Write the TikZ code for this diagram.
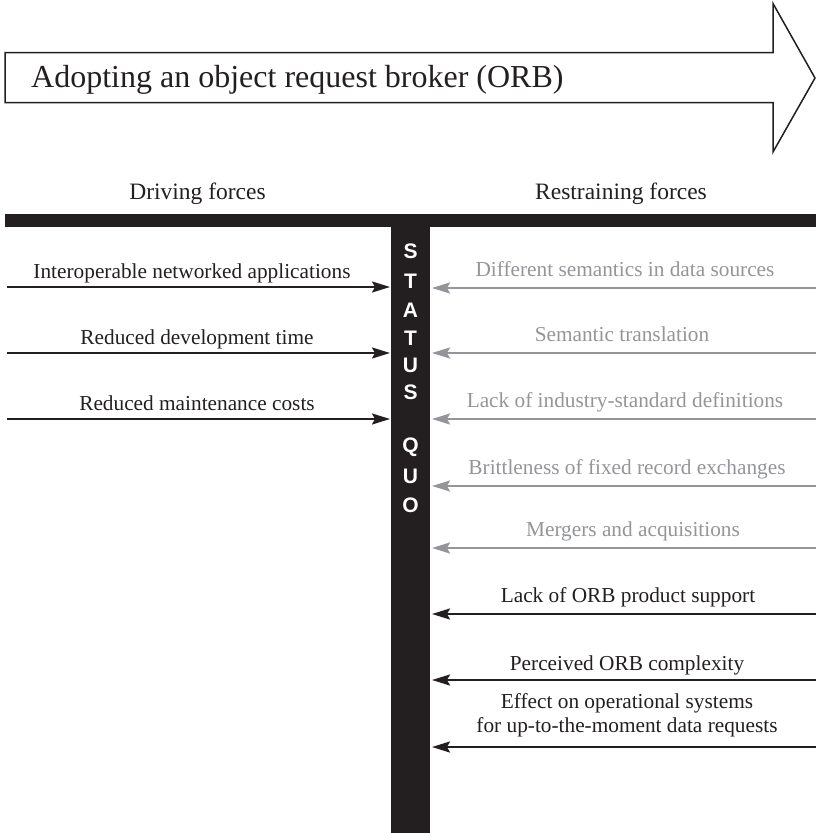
\documentclass[tikz,border=0pt]{standalone}
\usepackage{fontspec}
\setmainfont{Liberation Serif}
\newfontfamily\sqfont{Liberation Sans}
\usetikzlibrary{arrows.meta}
\definecolor{ink}{HTML}{231F20}
\definecolor{faint}{HTML}{939598}

\begin{document}
\begin{tikzpicture}[x=1pt,y=-1pt,
  force/.style={line width=2.2pt,-{Stealth[length=18pt,width=11pt,inset=3pt]}},
  strong/.style={force,draw=ink},
  weak/.style={force,draw=faint},
  forcetext/.style={anchor=base,inner sep=0pt,font=\fontsize{21.3}{24}\selectfont,text=ink},
  weaktext/.style={forcetext,text=faint},
  heading/.style={anchor=base,inner sep=0pt,font=\fontsize{23.5}{28}\selectfont,text=ink},
  sqletter/.style={anchor=base,inner sep=0pt,text=white,font=\sqfont\bfseries\fontsize{21}{21}\selectfont},
  barfill/.style={fill=ink,draw=none}]

\useasboundingbox (0,0) rectangle (816,833);

% direction of change: the big outline arrow
\draw[ink,line width=1.5pt,line join=miter]
  (5,52.5) -- (773,52.5) -- (773,3.5) -- (815,78) -- (773,152) -- (773,102.5) -- (5,102.5) -- cycle;
\node[anchor=base west,inner sep=0pt,font=\fontsize{32}{38}\selectfont,text=ink] (goal) at (31,87) {Adopting an object request broker (ORB)};

% column headings
\node[heading] (hdrive) at (197.5,199) {Driving forces};
\node[heading] (hrestrain) at (621,199) {Restraining forces};

% the T-shaped status quo bar
\fill[barfill] (5,214) rectangle (816,227);
\fill[barfill] (391,214) rectangle (430,833);
\foreach \ch/\yy [count=\i] in {S/251,T/281,A/310,T/338,U/365,S/392,Q/445,U/476,O/505}
  \node[sqletter] (sq\i) at (410.5,\yy+7.5) {\ch};

% driving forces (left)
\foreach \i/\yy/\cx/\txt in {
  1/287/192/Interoperable networked applications,
  2/353/197/Reduced development time,
  3/419/197/Reduced maintenance costs} {
  \coordinate (ds\i) at (7,\yy);
  \coordinate (dt\i) at (390,\yy);
  \draw[strong] (ds\i) -- (dt\i);
  \node[forcetext] (dl\i) at (\cx,\yy-8.5) {\txt};
}

% restraining forces (right), weaker ones in grey
\foreach \i/\yy/\cx/\txt in {
  1/288/625/Different semantics in data sources,
  2/353/622/Semantic translation,
  3/419/625/Lack of industry-standard definitions,
  4/486/627/Brittleness of fixed record exchanges,
  5/548/633/Mergers and acquisitions} {
  \coordinate (rs\i) at (816,\yy);
  \coordinate (rt\i) at (432,\yy);
  \draw[weak] (rs\i) -- (rt\i);
  \node[weaktext] (rl\i) at (\cx,\yy-12) {\txt};
}

% restraining forces (right), stronger ones in black
\coordinate (rs6) at (816,614);
\coordinate (rt6) at (432,614);
\draw[strong] (rs6) -- (rt6);
\node[forcetext] (rl6) at (628,602) {Lack of ORB product support};

\coordinate (rs7) at (816,680);
\coordinate (rt7) at (432,680);
\draw[strong] (rs7) -- (rt7);
\node[forcetext] (rl7) at (627,670) {Perceived ORB complexity};

\coordinate (rs8) at (816,747);
\coordinate (rt8) at (432,747);
\draw[strong] (rs8) -- (rt8);
\node[forcetext] (rl8a) at (627,708) {Effect on operational systems};
\node[forcetext] (rl8b) at (627,732) {for up-to-the-moment data requests};

\end{tikzpicture}
\end{document}
